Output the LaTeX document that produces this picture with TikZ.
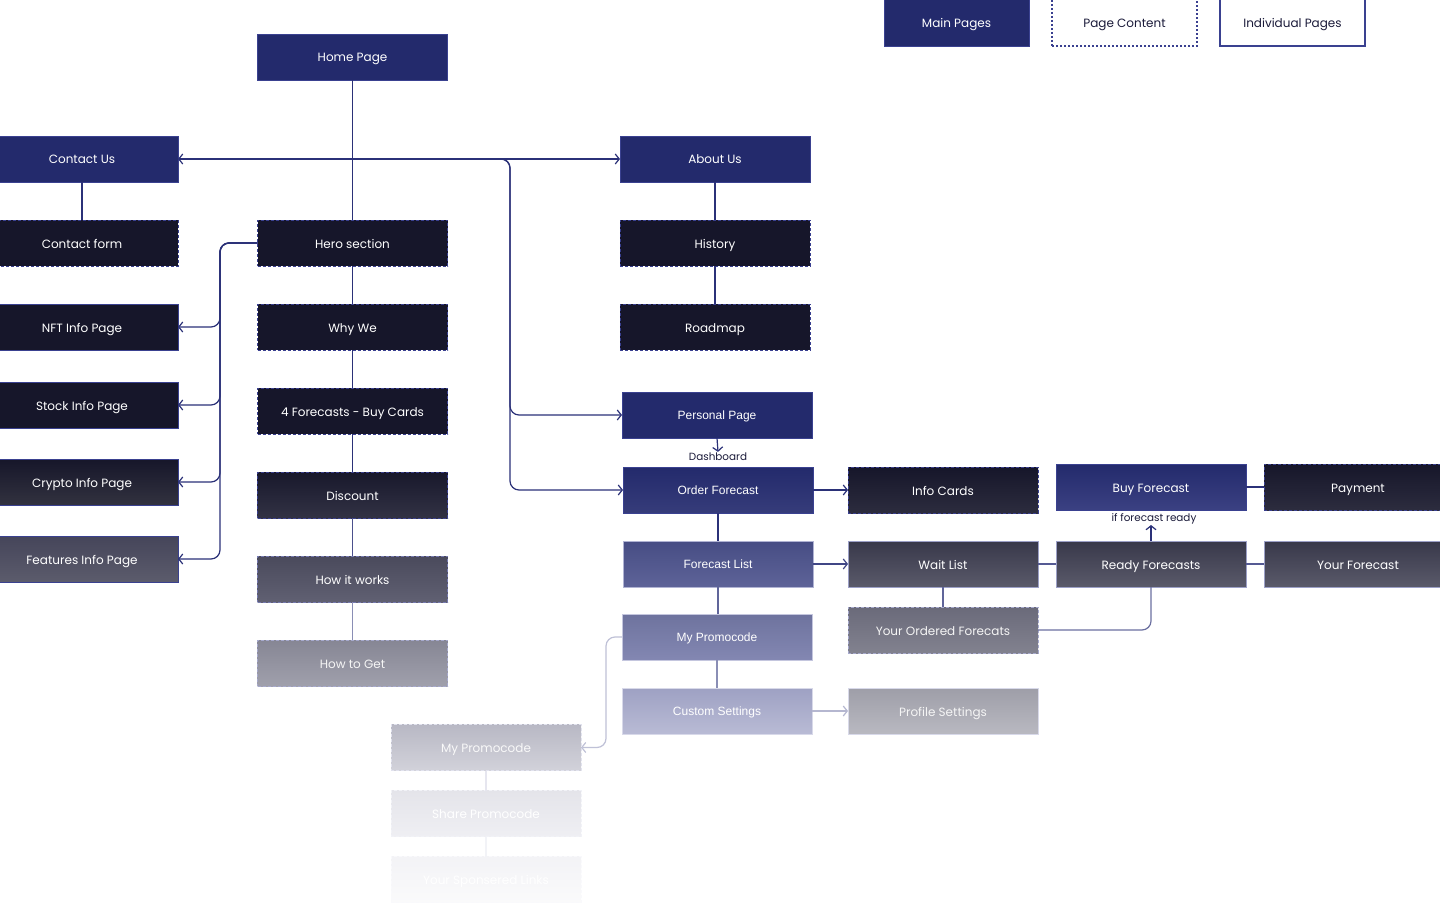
\documentclass[tikz,border=0pt]{standalone}
\usepackage{fontspec}
\usetikzlibrary{arrows.meta}
\newfontfamily\pop{Poppins}
\newfontfamily\ars{Liberation Sans}
\definecolor{mainblue}{HTML}{232A6C}
\definecolor{mainedge}{HTML}{3A4190}
\definecolor{dashblue}{HTML}{3A4090}
\definecolor{lineblue}{HTML}{2B3178}
\definecolor{darkbox}{HTML}{16162A}
\definecolor{legtext}{HTML}{1B1B3A}
\tikzset{
 base/.style={rectangle, minimum width=190pt, minimum height=46pt, inner sep=0pt, outer sep=0pt,
   font=\pop\fontsize{12}{14}\selectfont, text=white, line width=0.8pt, text height=10pt, text depth=0pt},
 arfont/.style={font=\ars\fontsize{12}{14}\selectfont, text height=9.6pt},
 mainp/.style={base, fill=mainblue, draw=mainedge},
 cont/.style={base, draw=dashblue, dash pattern=on 3pt off 2pt},
 indiv/.style={base, draw=mainedge},
 grad/.code 2 args={\definecolor{gt#1}{HTML}{#1}\definecolor{gb#2}{HTML}{#2}\tikzset{top color=gt#1, bottom color=gb#2}},
 conn/.style={draw=lineblue, line width=1.2pt, rounded corners=9pt},
 arr/.style={conn, -{Straight Barb[length=4pt,width=10pt,line width=1.2pt]}},
 darr/.style={conn, {Straight Barb[length=4pt,width=10pt,line width=1.2pt]}-{Straight Barb[length=4pt,width=10pt,line width=1.2pt]}},
 small/.style={font=\pop\fontsize{10.4}{12}\selectfont, text=legtext, inner sep=1pt},
 leg/.style={minimum width=145pt, minimum height=52pt, text height=16pt, text depth=0pt},
}
\begin{document}
\begin{tikzpicture}[x=1pt,y=-1pt]
\useasboundingbox (0,0) rectangle (1440,920);
\clip (0,0) rectangle (1440,920);
\fill[white] (0,0) rectangle (1440,920);

% legend
\node[mainp, leg] (lmain) at (956.5,20) {Main Pages};
\node[cont, leg, draw=dashblue, dash pattern=on 2pt off 2pt, line width=1.2pt, text=legtext] (lcont) at (1124.5,20) {Page Content};
\node[indiv, leg, fill=white, line width=1.4pt, text=legtext] (lind) at (1292.5,20) {Individual Pages};

% column 1
\node[mainp, minimum width=192pt] (contact) at (82,159) {Contact Us};
\node[cont, fill=darkbox, minimum width=192pt] (cform) at (82,243) {Contact form};
\node[indiv, fill=darkbox, minimum width=192pt] (nft) at (82,327) {NFT Info Page};
\node[indiv, fill=darkbox, minimum width=192pt] (stock) at (82,405) {Stock Info Page};
\node[indiv, grad={16162A}{32323F}, minimum width=192pt] (crypto) at (82,482) {Crypto Info Page};
\node[indiv, grad={45455A}{5C5C6C}, minimum width=192pt] (feat) at (82,559) {Features Info Page};

% column 2
\node[mainp] (home) at (352.5,57) {Home Page};
\node[cont, fill=darkbox] (hero) at (352.5,243) {Hero section};
\node[cont, fill=darkbox] (why) at (352.5,327) {Why We};
\node[cont, fill=darkbox] (four) at (352.5,411) {4 Forecasts - Buy Cards};
\node[cont, grad={18182C}{323244}] (disc) at (352.5,495) {Discount};
\node[cont, draw=white!30!dashblue, grad={4A4A5C}{606072}] (hiw) at (352.5,579) {How it works};
\node[cont, draw=white!55!dashblue, grad={868694}{A0A0AC}, text=white!92!gray] (htg) at (352.5,663) {How to Get};

% faded column
\node[cont, draw=white!85!dashblue, grad={B8B8C4}{D2D2DA}, text=white!95!gray] (fpromo) at (486,747.5) {My Promocode};
\node[cont, draw=white!93!dashblue, grad={E4E4EA}{EFEFF3}, text=white] (share) at (486,813.5) {Share Promocode};
\node[cont, draw=white!97!dashblue, grad={F3F3F6}{FAFAFB}, text=white] (spons) at (486,879.5) {Your Sponsered Links};

% column 3
\node[mainp] (about) at (715,159) {About Us};
\node[cont, fill=darkbox] (hist) at (715,243) {History};
\node[cont, fill=darkbox] (road) at (715,327) {Roadmap};
\node[mainp, arfont] (pers) at (717,415) {Personal Page};
\node[small] (dash) at (718,457) {Dashboard};
\node[mainp, grad={232A6C}{363C7A}, arfont] (order) at (718,490) {Order Forecast};
\node[indiv, draw=white!60!mainedge, grad={474D84}{5E6398}, arfont] (flist) at (718,564) {Forecast List};
\node[indiv, draw=white!70!mainedge, grad={6E739E}{8387B2}, arfont] (promo) at (717,637) {My Promocode};
\node[indiv, draw=white!80!mainedge, grad={9EA1C3}{B9BBD5}, arfont] (custom) at (717,711) {Custom Settings};

% column 4
\node[cont, grad={16162A}{2C2C3E}] (info) at (943,490) {Info Cards};
\node[indiv, draw=white!50!mainedge, grad={38384A}{5A5A6A}] (wait) at (943,564) {Wait List};
\node[cont, draw=white!55!dashblue, grad={6A6A7A}{82828F}, text=white!92!gray] (ordered) at (943,630) {Your Ordered Forecats};
\node[indiv, draw=white!80!mainedge, grad={9E9EA8}{B9B9C1}, text=white!92!gray] (prof) at (943,711) {Profile Settings};

% column 5
\node[mainp, grad={232A6C}{3B4182}] (buy) at (1151,487) {Buy Forecast};
\node[indiv, draw=white!50!mainedge, grad={38384A}{5A5A6A}] (ready) at (1151,564) {Ready Forecasts};
\node[small] (ifr) at (1154,519) {if forecast ready};

% column 6
\node[cont, grad={16162A}{2C2C3E}, minimum width=188pt] (pay) at (1358,487) {Payment};
\node[indiv, draw=white!50!mainedge, grad={38384A}{5A5A6A}, minimum width=188pt] (yourf) at (1358,564) {Your Forecast};

% coordinates
\coordinate (j1) at (470,159);
\coordinate (jx) at (510,300);
\coordinate (lx) at (220,300);
\coordinate (px) at (606,700);

% connectors
\draw[conn] (home.south) -- (hero.north);
\draw[darr] (contact.east) -- (about.west);
\draw[arr] (j1) -| (jx) |- (pers.west);
\draw[arr] (j1) -| (jx) |- (order.west);
\draw[conn] (contact.south) -- (cform.north);
\draw[conn] (about.south) -- (hist.north);
\draw[conn] (hist.south) -- (road.north);
\draw[conn] (hero.south) -- (why.north);
\draw[conn] (why.south) -- (four.north);
\draw[conn] (four.south) -- (disc.north);
\draw[conn, draw=lineblue!85!white] (disc.south) -- (hiw.north);
\draw[conn, draw=lineblue!55!white] (hiw.south) -- (htg.north);
\draw[arr] (hero.west) -| (lx) |- (nft.east);
\draw[arr] (hero.west) -| (lx) |- (stock.east);
\draw[arr] (hero.west) -| (lx) |- (crypto.east);
\draw[arr] (hero.west) -| (lx) |- (feat.east);
\draw[arr] (pers.south) -- (dash.north);
\draw[arr] (order.east) -- (info.west);
\draw[conn] (order.south) -- (flist.north);
\draw[arr, draw=lineblue!90!white] (flist.east) -- (wait.west);
\draw[conn, draw=lineblue!75!white] (flist.south) -- (flist.south |- promo.north);
\draw[conn, draw=lineblue!55!white] (promo.south) -- (custom.north);
\draw[arr, draw=lineblue!35!white] (custom.east) -- (prof.west);
\draw[arr, draw=lineblue!30!white] (promo.west) -| (px) |- (fpromo.east);
\draw[conn, draw=lineblue!12!white] (fpromo.south) -- (share.north);
\draw[conn, draw=lineblue!6!white] (share.south) -- (spons.north);
\draw[conn, draw=lineblue!80!white] (wait.east) -- (ready.west);
\draw[conn, draw=lineblue!80!white] (ready.east) -- (yourf.west);
\draw[conn, draw=lineblue!75!white] (wait.south) -- (ordered.north);
\draw[conn, draw=lineblue!70!white] (ordered.east) -| (ready.south);
\draw[arr] (ready.north) -- ++(0,-16);
\draw[conn] (buy.east) -- (pay.west);
\end{tikzpicture}
\end{document}
